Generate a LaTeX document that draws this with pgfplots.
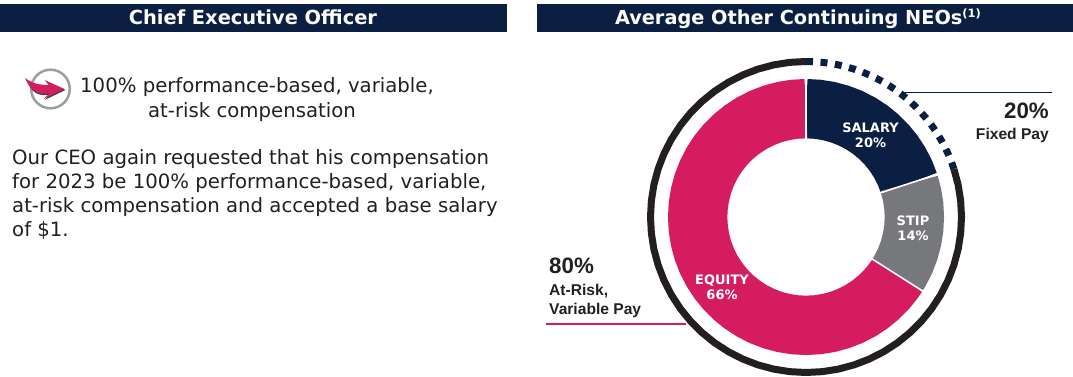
\documentclass[border=0pt]{standalone}
\usepackage{pgfplots}
\pgfplotsset{compat=1.18}
\usepgfplotslibrary{polar}
\usepackage{fontspec}
\setmainfont{DejaVu Sans}
\newfontfamily\arialf{Liberation Sans}
\definecolor{navy}{HTML}{0B1F42}
\definecolor{stip}{HTML}{77787B}
\definecolor{pinkc}{HTML}{D51C5E}
\definecolor{ringc}{HTML}{231F20}
\definecolor{txt}{HTML}{231F20}
\newcommand{\fs}[1]{\fontsize{#1}{#1}\selectfont}
\begin{document}
\begin{tikzpicture}
\path[use as bounding box] (0,0) rectangle (1073pt,376pt);
% headers and text, in image pixels
\begin{scope}[x=1pt,y=-1pt,yshift=376pt]
\fill[navy] (0,4) rectangle (506.5,31.5);
\fill[navy] (537,4) rectangle (1073,31.5);
\node[white,anchor=base,inner sep=0] at (253,24) {\fs{19.4}\bfseries Chief Executive Officer};
\node[white,anchor=base,inner sep=0] at (798,24) {\fs{19.3}\bfseries Average Other Continuing NEOs\raisebox{6.5pt}{\fs{11.5}(1)}};
% icon
\draw[color=black!38,line width=2.5pt] (50.5,89) circle (19.3);
\fill[black!75] (26.5,80) .. controls (33,86) and (40,86.5) .. (50,86.5) -- (45.5,81) -- (65.5,90) -- (44.5,100) -- (50,94.5) .. controls (38,97) and (31,92) .. (26.5,80) -- cycle;
\fill[pinkc] (25,78) .. controls (33,84) and (40,85) .. (50,85) -- (44.5,80) -- (64.5,89) -- (43.5,99) -- (50,93) .. controls (38,96) and (30,90) .. (25,78) -- cycle;
\node[txt,anchor=base,inner sep=0] at (257,92) {\fs{19.7}100\% performance-based, variable,};
\node[txt,anchor=base,inner sep=0] at (252,117) {\fs{19.7}at-risk compensation};
\node[txt,anchor=base west,inner sep=0] at (12,164) {\fs{19.7}Our CEO again requested that his compensation};
\node[txt,anchor=base west,inner sep=0] at (12,188.3) {\fs{19.7}for 2023 be 100\% performance-based, variable,};
\node[txt,anchor=base west,inner sep=0] at (12,212.5) {\fs{19.7}at-risk compensation and accepted a base salary};
\node[txt,anchor=base west,inner sep=0] at (12,236.5) {\fs{19.7}of \$1.};
\end{scope}
\begin{axis}[
  anchor=south west, at={(0,0)},
  x=1pt, y=1pt,
  xmin=-806, xmax=267, ymin=-159, ymax=217,
  hide axis, clip=false,
  data cs=polar,
  every axis plot/.append style={no marks, line cap=butt, line join=miter},
]
% SALARY 20%
\addplot[navy,line width=59.3pt] coordinates {(90,108.35)(84,108.35)(78,108.35)(72,108.35)(66,108.35)(60,108.35)(54,108.35)(48,108.35)(42,108.35)(36,108.35)(30,108.35)(24,108.35)(18,108.35)};
% STIP 14%
\addplot[stip,line width=59.3pt] coordinates {(18,108.35)(12,108.35)(6,108.35)(0,108.35)(-6,108.35)(-12,108.35)(-18,108.35)(-24,108.35)(-30,108.35)(-32.4,108.35)};
% EQUITY 66%
\addplot[pinkc,line width=59.3pt] coordinates {(-32.4,108.35)(-36,108.35)(-42,108.35)(-48,108.35)(-54,108.35)(-60,108.35)(-66,108.35)(-72,108.35)(-78,108.35)(-84,108.35)(-90,108.35)(-96,108.35)(-102,108.35)(-108,108.35)(-114,108.35)(-120,108.35)(-126,108.35)(-132,108.35)(-138,108.35)(-144,108.35)(-150,108.35)(-156,108.35)(-162,108.35)(-168,108.35)(-174,108.35)(-180,108.35)(-186,108.35)(-192,108.35)(-198,108.35)(-204,108.35)(-210,108.35)(-216,108.35)(-222,108.35)(-228,108.35)(-234,108.35)(-240,108.35)(-246,108.35)(-252,108.35)(-258,108.35)(-264,108.35)(-270,108.35)};
% separators
\addplot[white,line width=1.6pt] coordinates {(90,77)(90,140)};
\addplot[white,line width=1.6pt] coordinates {(18,77)(18,140)};
\addplot[white,line width=1.6pt] coordinates {(-32.4,77)(-32.4,140)};
% outer ring: at-risk 80%
\addplot[ringc,line width=7pt] coordinates {(90,155.5)(96,155.5)(102,155.5)(108,155.5)(114,155.5)(120,155.5)(126,155.5)(132,155.5)(138,155.5)(144,155.5)(150,155.5)(156,155.5)(162,155.5)(168,155.5)(174,155.5)(180,155.5)(186,155.5)(192,155.5)(198,155.5)(204,155.5)(210,155.5)(216,155.5)(222,155.5)(228,155.5)(234,155.5)(240,155.5)(246,155.5)(252,155.5)(258,155.5)(264,155.5)(270,155.5)(276,155.5)(282,155.5)(288,155.5)(294,155.5)(300,155.5)(306,155.5)(312,155.5)(318,155.5)(324,155.5)(330,155.5)(336,155.5)(342,155.5)(348,155.5)(354,155.5)(360,155.5)(366,155.5)(372,155.5)(378,155.5)};
% outer ring: fixed 20%
\addplot[navy,line width=7pt,dash pattern=on 7pt off 7.5pt] coordinates {(90,155.5)(87,155.5)(84,155.5)(81,155.5)(78,155.5)(75,155.5)(72,155.5)(69,155.5)(66,155.5)(63,155.5)(60,155.5)(57,155.5)(54,155.5)(51,155.5)(48,155.5)(45,155.5)(42,155.5)(39,155.5)(36,155.5)(33,155.5)(30,155.5)(27,155.5)(24,155.5)(21,155.5)(18,155.5)};
\end{axis}
% labels and leaders, in image pixels
\begin{scope}[x=1pt,y=-1pt,yshift=376pt]
\draw[navy,line width=1.4pt] (903,92.6) -- (1052,92.6);
\draw[pinkc,line width=1.8pt] (546,324) -- (686,324);
\node[white,anchor=base,inner sep=0,align=center] at (870.5,132) {\fs{13}\bfseries SALARY};
\node[white,anchor=base,inner sep=0] at (870.5,147) {\fs{13}\bfseries 20\%};
\node[white,anchor=base,inner sep=0] at (913,225) {\fs{13}\bfseries STIP};
\node[white,anchor=base,inner sep=0] at (913,240) {\fs{13}\bfseries 14\%};
\node[white,anchor=base,inner sep=0] at (722,284) {\fs{13}\bfseries EQUITY};
\node[white,anchor=base,inner sep=0] at (722,299) {\fs{13}\bfseries 66\%};
\node[txt,anchor=base east,inner sep=0] at (1049,118) {\arialf\fs{22.3}\bfseries 20\%};
\node[txt,anchor=base east,inner sep=0] at (1049,139) {\arialf\fs{15.6}\bfseries Fixed Pay};
\node[txt,anchor=base west,inner sep=0] at (549,273) {\arialf\fs{22.3}\bfseries 80\%};
\node[txt,anchor=base west,inner sep=0] at (549,295) {\arialf\fs{15.6}\bfseries At-Risk,};
\node[txt,anchor=base west,inner sep=0] at (549,314) {\arialf\fs{15.6}\bfseries Variable Pay};
\end{scope}
\end{tikzpicture}
\end{document}
